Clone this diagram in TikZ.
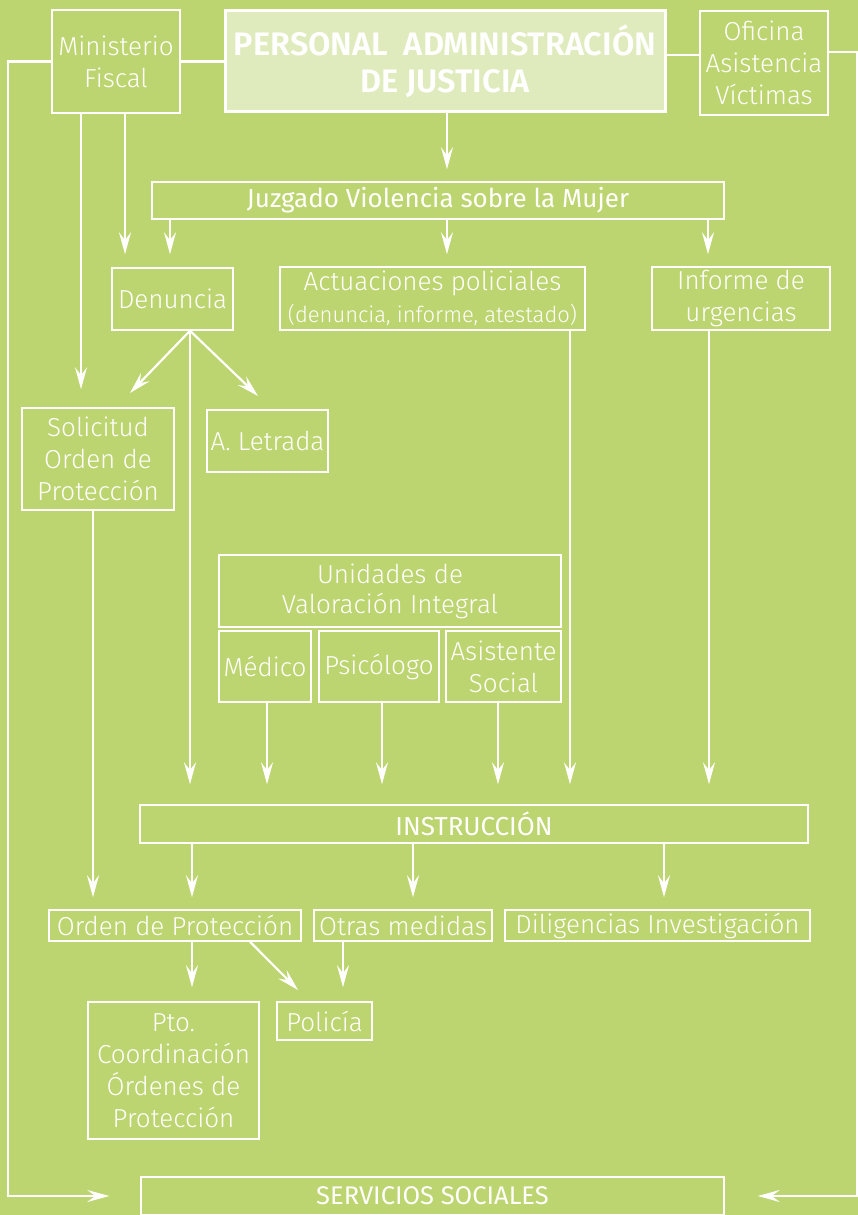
\documentclass[tikz,border=0pt]{standalone}
\usepackage{fontspec}
\setmainfont{Fira Sans}[UprightFont={* Light}, BoldFont={* SemiBold}]
\newfontfamily\regfont{Fira Sans}
\usetikzlibrary{arrows.meta,calc}
\definecolor{bgc}{HTML}{BDD570}
\definecolor{tfill}{HTML}{DFEBBD}
\begin{document}
\begin{tikzpicture}[x=1pt,y=-1pt,
  box/.style={draw=white, line width=1.5pt, text=white, inner sep=0pt, align=center,
    font=\fontsize{26}{32}\selectfont},
  conn/.style={draw=white, line width=2.2pt},
  arr/.style={conn, -{Stealth[length=22pt,width=12pt,inset=8pt]}},
]
\fill[bgc] (0,0) rectangle (858,1215);
\useasboundingbox (0,0) rectangle (858,1215);
\clip (0,0) rectangle (858,1215);

% columns / rows
\coordinate (c81) at (81,0);
\coordinate (c93) at (93,0);
\coordinate (c125) at (125,0);
\coordinate (c170) at (170,0);
\coordinate (c190) at (190,0);
\coordinate (c192) at (192,0);
\coordinate (c250) at (250,0);
\coordinate (c267) at (267,0);
\coordinate (c343) at (343,0);
\coordinate (c382) at (382,0);
\coordinate (c413) at (413,0);
\coordinate (c447) at (447,0);
\coordinate (c498) at (498,0);
\coordinate (c570) at (570,0);
\coordinate (c664) at (664,0);
\coordinate (c708) at (708,0);
\coordinate (c709) at (709,0);
\coordinate (y52) at (0,52);
\coordinate (y55) at (0,55);
\coordinate (lcorner) at (8,600);
\coordinate (rcorner) at (857,600);
\coordinate (solin) at (130,393);
\coordinate (letin) at (258,396);
\coordinate (polin) at (298,990);

% nodes
\node[box, minimum width=128pt, minimum height=103pt] (minf) at (116,61.5) {Ministerio\\Fiscal};
\node[box, fill=tfill, line width=3pt, minimum width=440pt, minimum height=100pt,
  font=\bfseries\fontsize{32.5}{37}\selectfont] (title) at (445,61) {PERSONAL~~ADMINISTRACIÓN\\DE JUSTICIA};
\node[box, minimum width=128pt, minimum height=104pt] (ofi) at (764,63) {Oficina\\Asistencia\\Víctimas};
\node[box, minimum width=572pt, minimum height=37pt, font=\regfont\fontsize{26}{30}\selectfont] (juz) at (438,200.5) {Juzgado Violencia sobre la Mujer};
\node[box, minimum width=121pt, minimum height=62pt] (den) at (172.5,299) {Denuncia};
\node[box, minimum width=305pt, minimum height=63pt] (act) at (432.5,298.5)
  {Actuaciones policiales\\{\fontsize{22}{30}\selectfont (denuncia, informe, atestado)}};
\node[box, minimum width=178pt, minimum height=63pt] (inf) at (741,298.5) {Informe de\\urgencias};
\node[box, minimum width=152pt, minimum height=102pt] (sol) at (98,459) {Solicitud\\Orden de\\Protección};
\node[box, minimum width=121pt, minimum height=62pt] (letr) at (267.5,441) {A. Letrada};
\node[box, minimum width=342pt, minimum height=72pt, font=\fontsize{26}{30}\selectfont] (uvi) at (390,591) {Unidades de\\Valoración Integral};
\node[box, minimum width=92pt, minimum height=71pt] (med) at (265,666.5) {Médico};
\node[box, minimum width=120pt, minimum height=71pt] (psi) at (379,666.5) {Psicólogo};
\node[box, minimum width=115pt, minimum height=71pt] (asi) at (503.5,666.5) {Asistente\\Social};
\node[box, minimum width=668pt, minimum height=38pt, font=\regfont\fontsize{26}{30}\selectfont] (ins) at (474,824) {INSTRUCCIÓN};
\node[box, minimum width=252pt, minimum height=31pt] (ord) at (175,925.5) {Orden de Protección};
\node[box, minimum width=178pt, minimum height=31pt] (otr) at (403,925.5) {Otras medidas};
\node[box, minimum width=305pt, minimum height=31pt] (dil) at (657.5,925.5) {Diligencias Investigación};
\node[box, minimum width=171pt, minimum height=137pt] (pto) at (173.5,1070.5) {Pto.\\Coordinación\\Órdenes de\\Protección};
\node[box, minimum width=95pt, minimum height=38pt] (pol) at (324.5,1021) {Policía};
\node[box, minimum width=583pt, minimum height=38pt, font=\regfont\fontsize{25.5}{30}\selectfont] (ss) at (432.5,1196) {SERVICIOS SOCIALES};

% connectors
\draw[conn] (minf.east) -- (minf.east -| title.west);
\draw[conn] (title.east |- y55) -- (ofi.west |- y55);
\draw[arr, shorten >=31pt] (minf.west) -| (lcorner) |- (ss.west);
\draw[arr, shorten >=33pt] (ofi.east |- y52) -| (rcorner) |- (ss.east);

\draw[arr, shorten >=12pt] (title.south -| c447) -- (juz.north -| c447);
\draw[arr, shorten >=13pt] (juz.south -| c170) -- (den.north -| c170);
\draw[arr, shorten >=12pt] (juz.south -| c447) -- (act.north -| c447);
\draw[arr, shorten >=12pt] (juz.south -| c708) -- (inf.north -| c708);
\draw[arr, shorten >=13pt] (minf.south -| c125) -- (den.north -| c125);
\draw[arr, shorten >=18pt] (minf.south -| c81) -- (sol.north -| c81);

\draw[arr] (den.south -| c190) -- (solin);
\draw[arr] (den.south -| c190) -- (letin);
\draw[arr, shorten >=20pt] (den.south -| c190) -- (ins.north -| c190);
\draw[arr, shorten >=20pt] (act.south -| c570) -- (ins.north -| c570);
\draw[arr, shorten >=20pt] (inf.south -| c709) -- (ins.north -| c709);
\draw[arr, shorten >=20pt] (med.south -| c267) -- (ins.north -| c267);
\draw[arr, shorten >=20pt] (psi.south -| c382) -- (ins.north -| c382);
\draw[arr, shorten >=20pt] (asi.south -| c498) -- (ins.north -| c498);

\draw[arr, shorten >=12pt] (sol.south -| c93) -- (ord.north -| c93);
\draw[arr, shorten >=12pt] (ins.south -| c192) -- (ord.north -| c192);
\draw[arr, shorten >=12pt] (ins.south -| c413) -- (otr.north -| c413);
\draw[arr, shorten >=12pt] (ins.south -| c664) -- (dil.north -| c664);

\draw[arr, shorten >=14pt] (ord.south -| c192) -- (pto.north -| c192);
\draw[arr] (ord.south -| c250) -- (polin);
\draw[arr, shorten >=14pt] (otr.south -| c343) -- (pol.north -| c343);
\end{tikzpicture}
\end{document}
